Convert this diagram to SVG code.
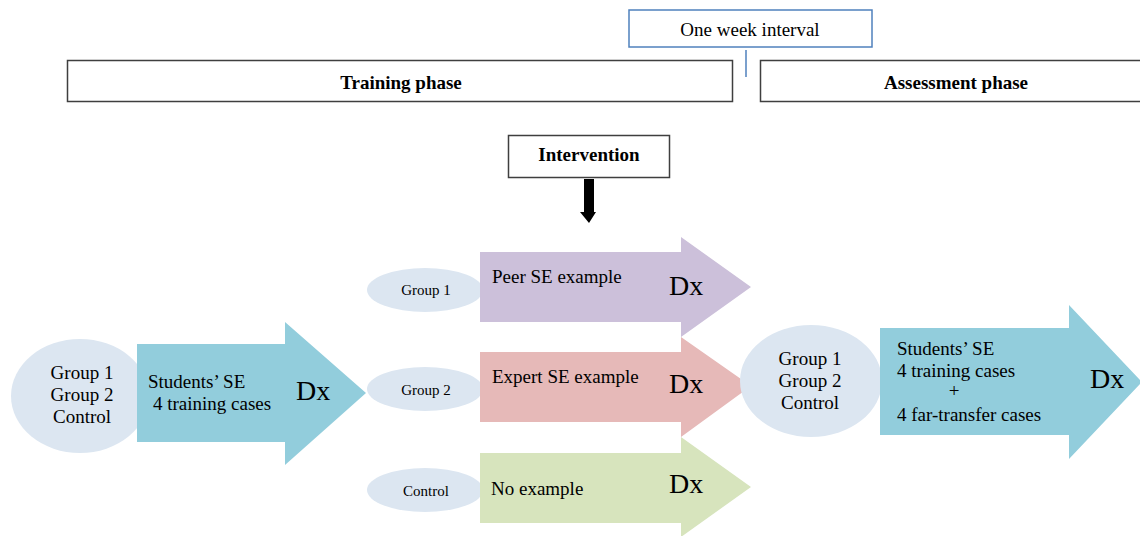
<svg xmlns="http://www.w3.org/2000/svg" width="1140" height="536" viewBox="0 0 1140 536">
<style>
text{font-family:"Liberation Serif","Times New Roman",serif;fill:#000}
.box{fill:#fff;stroke:#3f3f3f;stroke-width:1.5}
.bold{font-weight:bold;font-size:19px}
.ell{fill:#dce6f1}
.t18{font-size:19px}
.t15{font-size:15px}
.dx{font-size:28px}
.teal{fill:#92cddc}
</style>
<rect width="1140" height="536" fill="#fff"/>
<g id="interval">
<rect x="629" y="10" width="243" height="37" fill="#fff" stroke="#4f81bd" stroke-width="1.5"/>
<text x="750" y="36" text-anchor="middle" font-size="19">One week interval</text>
</g>
<g id="training-phase">
<rect class="box" x="67.5" y="60.5" width="665" height="41"/>
<text class="bold" x="401" y="89" text-anchor="middle">Training phase</text>
</g>
<g id="assessment-phase">
<rect class="box" x="760.5" y="60.5" width="390" height="41"/>
<text class="bold" x="956" y="89" text-anchor="middle">Assessment phase</text>
</g>
<g id="intervention">
<rect class="box" x="508.5" y="135.5" width="161" height="42"/>
<text class="bold" x="589" y="161" text-anchor="middle">Intervention</text>
</g>
<g id="connectors">
<line x1="746" y1="50" x2="746" y2="77" stroke="#4f81bd" stroke-width="1.5"/>
<polygon points="584,179 594,179 594,212 596,212 589,223 580,212 584,212" fill="#000"/>
</g>
<g id="start-groups">
<ellipse class="ell" cx="80" cy="396" rx="69" ry="57"/>
<text class="t18" x="82" y="379" text-anchor="middle">Group 1</text>
<text class="t18" x="82" y="401" text-anchor="middle">Group 2</text>
<text class="t18" x="82" y="423" text-anchor="middle">Control</text>
</g>
<g id="training-arrow">
<polygon class="teal" points="137,344 285,344 285,322 366,393 285,465 285,442 137,442"/>
<text class="t18" x="148" y="388">Students’ SE</text>
<text class="t18" x="153" y="410">4 training cases</text>
<text class="dx" x="296" y="400">Dx</text>
</g>
<g id="group1">
<ellipse class="ell" cx="425" cy="290" rx="58" ry="22"/>
<text class="t15" x="426" y="295" text-anchor="middle">Group 1</text>
</g>
<g id="group2">
<ellipse class="ell" cx="425" cy="389" rx="58" ry="22"/>
<text class="t15" x="426" y="395" text-anchor="middle">Group 2</text>
</g>
<g id="control">
<ellipse class="ell" cx="425" cy="490" rx="58" ry="22"/>
<text class="t15" x="426" y="496" text-anchor="middle">Control</text>
</g>
<g id="peer-arrow">
<polygon fill="#ccc0da" points="480,252 681,252 681,237 751,287 681,337 681,322 480,322"/>
<text class="t18" x="492" y="283">Peer SE example</text>
<text class="dx" x="669" y="295">Dx</text>
</g>
<g id="expert-arrow">
<polygon fill="#e6b9b8" points="480,352 681,352 681,337 751,386 681,437 681,422 480,422"/>
<text class="t18" x="492" y="383">Expert SE example</text>
<text class="dx" x="669" y="393">Dx</text>
</g>
<g id="no-example-arrow">
<polygon fill="#d7e4bd" points="480,453 681,453 681,437 751,487 681,537 681,523 480,523"/>
<text class="t18" x="491" y="495">No example</text>
<text class="dx" x="669" y="493">Dx</text>
</g>
<g id="end-groups">
<ellipse class="ell" cx="811" cy="381" rx="71" ry="56"/>
<text class="t18" x="810" y="365" text-anchor="middle">Group 1</text>
<text class="t18" x="810" y="387" text-anchor="middle">Group 2</text>
<text class="t18" x="810" y="409" text-anchor="middle">Control</text>
</g>
<g id="assessment-arrow">
<polygon class="teal" points="880,328 1069,328 1069,305 1142,382 1069,459 1069,435 880,435"/>
<text class="t18" x="897" y="355">Students’ SE</text>
<text class="t18" x="897" y="377">4 training cases</text>
<text class="t18" x="954" y="397" text-anchor="middle">+</text>
<text class="t18" x="897" y="421">4 far-transfer cases</text>
<text class="dx" x="1090" y="388">Dx</text>
</g>
</svg>
